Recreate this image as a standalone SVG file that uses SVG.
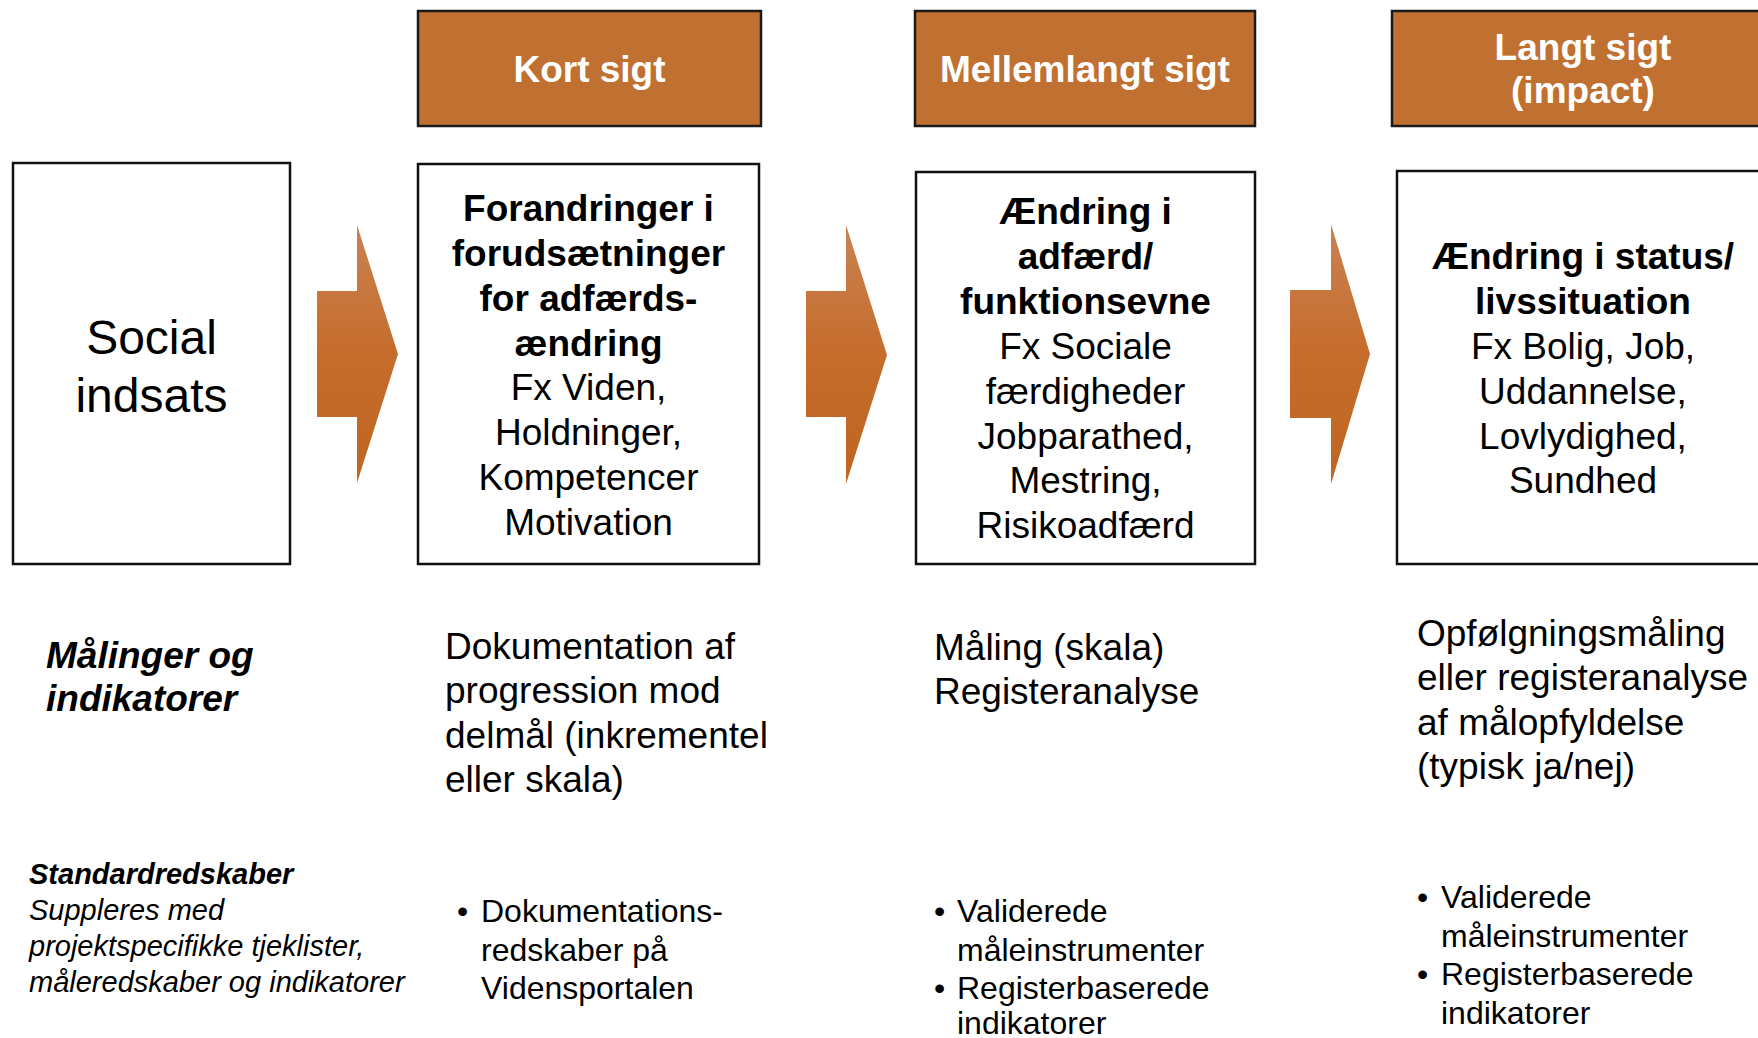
<svg xmlns="http://www.w3.org/2000/svg" width="1758" height="1038" viewBox="0 0 1758 1038">
<defs>
<linearGradient id="arrowGrad" x1="0" y1="0" x2="0" y2="1">
<stop offset="0" stop-color="#c98252"/>
<stop offset="0.5" stop-color="#c66c2c"/>
<stop offset="1" stop-color="#bf6622"/>
</linearGradient>
<style>
.hdr{fill:#c07132;stroke:#1a1a1a;stroke-width:2.5}
.box{fill:#ffffff;stroke:#111111;stroke-width:2.5}
.arrow{fill:url(#arrowGrad)}
text{font-family:"Liberation Sans",Arial,Helvetica,sans-serif;fill:#000}
.ht{font-size:37px;font-weight:bold;fill:#ffffff;text-anchor:middle}
.bt{font-size:37px;text-anchor:middle}
.b{font-weight:bold}
.big{font-size:48px;text-anchor:middle}
.mt{font-size:37px}
.lbl{font-size:37px;font-weight:bold;font-style:italic}
.sm{font-size:29px;font-style:italic}
.bl{font-size:32px}
</style>
</defs>
<rect width="1758" height="1038" fill="#ffffff"/>

<g id="header-kort">
<rect class="hdr" x="418" y="11" width="343" height="115"/>
<text class="ht" x="589.5" y="82">Kort sigt</text>
</g>
<g id="header-mellem">
<rect class="hdr" x="915" y="11" width="340" height="115"/>
<text class="ht" x="1085" y="82">Mellemlangt sigt</text>
</g>
<g id="header-langt">
<rect class="hdr" x="1392" y="11" width="384" height="115"/>
<text class="ht" x="1583" y="60">Langt sigt</text>
<text class="ht" x="1583" y="103">(impact)</text>
</g>

<g id="node-social">
<rect class="box" x="13" y="163" width="277" height="401"/>
<text class="big" x="151.5" y="354">Social</text>
<text class="big" x="151.5" y="411.5">indsats</text>
</g>

<g id="node-kort">
<rect class="box" x="418" y="164" width="341" height="400"/>
<text class="bt b" x="588.5" y="221">Forandringer i</text>
<text class="bt b" x="588.5" y="266">forudsætninger</text>
<text class="bt b" x="588.5" y="311">for adfærds-</text>
<text class="bt b" x="588.5" y="355.5">ændring</text>
<text class="bt" x="588.5" y="400">Fx Viden,</text>
<text class="bt" x="588.5" y="445">Holdninger,</text>
<text class="bt" x="588.5" y="490">Kompetencer</text>
<text class="bt" x="588.5" y="535">Motivation</text>
</g>

<g id="node-mellem">
<rect class="box" x="916" y="172" width="339" height="392"/>
<text class="bt b" x="1085.5" y="224">Ændring i</text>
<text class="bt b" x="1085.5" y="269">adfærd/</text>
<text class="bt b" x="1085.5" y="314">funktionsevne</text>
<text class="bt" x="1085.5" y="359">Fx Sociale</text>
<text class="bt" x="1085.5" y="404">færdigheder</text>
<text class="bt" x="1085.5" y="448.5">Jobparathed,</text>
<text class="bt" x="1085.5" y="493">Mestring,</text>
<text class="bt" x="1085.5" y="538">Risikoadfærd</text>
</g>

<g id="node-langt">
<rect class="box" x="1397" y="171" width="379" height="393"/>
<text class="bt b" x="1583" y="269">Ændring i status/</text>
<text class="bt b" x="1583" y="314">livssituation</text>
<text class="bt" x="1583" y="359">Fx Bolig, Job,</text>
<text class="bt" x="1583" y="404">Uddannelse,</text>
<text class="bt" x="1583" y="448.5">Lovlydighed,</text>
<text class="bt" x="1583" y="493">Sundhed</text>
</g>

<g id="connectors">
<polygon class="arrow" points="317,291 357,291 357,225 398,354 357,483 357,417 317,417"/>
<polygon class="arrow" points="806,291 846,291 846,225 887,355 846,484 846,417 806,417"/>
<polygon class="arrow" points="1290,290 1331,290 1331,224 1370,354 1331,484 1331,418 1290,418"/>
</g>

<g id="row-measure">
<text class="lbl" x="46" y="668">Målinger og</text>
<text class="lbl" x="46" y="711">indikatorer</text>
<text class="mt" x="445" y="659">Dokumentation af</text>
<text class="mt" x="445" y="703">progression mod</text>
<text class="mt" x="445" y="748">delmål (inkrementel</text>
<text class="mt" x="445" y="792">eller skala)</text>
<text class="mt" x="934" y="660">Måling (skala)</text>
<text class="mt" x="934" y="704">Registeranalyse</text>
<text class="mt" x="1417" y="646">Opfølgningsmåling</text>
<text class="mt" x="1417" y="690">eller registeranalyse</text>
<text class="mt" x="1417" y="735">af målopfyldelse</text>
<text class="mt" x="1417" y="779">(typisk ja/nej)</text>
</g>

<g id="row-tools">
<text class="sm" x="29" y="884" font-weight="bold">Standardredskaber</text>
<text class="sm" x="29" y="920">Suppleres med</text>
<text class="sm" x="29" y="956">projektspecifikke tjeklister,</text>
<text class="sm" x="29" y="992">måleredskaber og indikatorer</text>
<text class="bl" x="457" y="922">•</text>
<text class="bl" x="481" y="922">Dokumentations-</text>
<text class="bl" x="481" y="960.5">redskaber på</text>
<text class="bl" x="481" y="999">Vidensportalen</text>
<text class="bl" x="934" y="922">•</text>
<text class="bl" x="957" y="922">Validerede</text>
<text class="bl" x="957" y="960.5">måleinstrumenter</text>
<text class="bl" x="934" y="999">•</text>
<text class="bl" x="957" y="999">Registerbaserede</text>
<text class="bl" x="957" y="1034">indikatorer</text>
<text class="bl" x="1417" y="908">•</text>
<text class="bl" x="1441" y="908">Validerede</text>
<text class="bl" x="1441" y="947">måleinstrumenter</text>
<text class="bl" x="1417" y="985">•</text>
<text class="bl" x="1441" y="985">Registerbaserede</text>
<text class="bl" x="1441" y="1024">indikatorer</text>
</g>
</svg>
